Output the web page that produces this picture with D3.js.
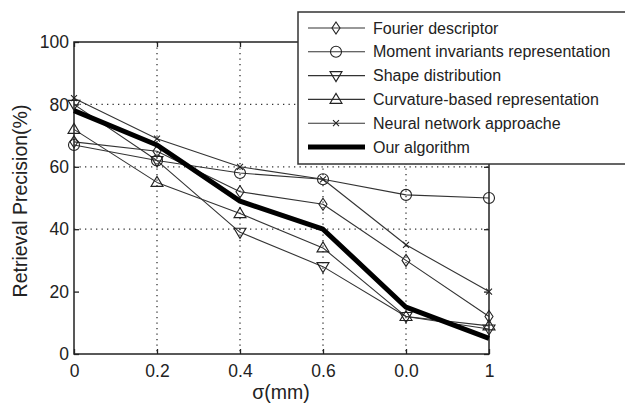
<!DOCTYPE html>
<html><head><meta charset="utf-8">
<script src="https://cdn.jsdelivr.net/npm/d3@7"></script>
<style>body{margin:0;background:#fff}svg{display:block;font-family:"Liberation Sans",Arial,sans-serif}</style>
</head><body><svg id="c" width="625" height="408"></svg>
<script>
const sigma = [0, 0.2, 0.4, 0.6, 0.8, 1];
const xTickValues = [0, 0.2, 0.4, 0.6, 0.8, 1];
const xTickLabels = ["0", "0.2", "0.4", "0.6", "0.0", "1"];
const yTickValues = [0, 20, 40, 60, 80, 100];
const yGridValues = [40, 60, 80];
const seriesNames = ["Fourier descriptor", "Moment invariants representation", "Shape distribution", "Curvature-based representation", "Neural network approache", "Our algorithm"];
const fourier = [68, 65, 52, 48, 30, 12];
const moment = [67, 62, 58, 56, 51, 50];
const shapeDist = [80, 62, 39, 28, 12, 8];
const curvature = [72, 55, 45, 34, 12, 9];
const neural = [82, 69, 60, 56, 35, 20];
const ours = [78, 67, 49, 40, 15, 5];
const markers = ["diamond", "circle", "tridown", "triup", "cross", "none"];

const series = [fourier, moment, shapeDist, curvature, neural, ours].map((v, i) => ({name: seriesNames[i], values: v, marker: markers[i], thick: i === 5}));

const svg = d3.select("#c");
const L = 74, R = 489, T = 42, B = 354;
const x = d3.scaleLinear().domain([0, 1]).range([L, R]);
const y = d3.scaleLinear().domain([0, 100]).range([B, T]);
const ink = "#222";

// grid
svg.append("g").selectAll("line").data(xTickValues.slice(1, 5)).join("line")
  .attr("x1", d => x(d)).attr("x2", d => x(d)).attr("y1", T).attr("y2", B)
  .attr("stroke", "#333").attr("stroke-width", 1.3).attr("stroke-dasharray", "1.3,4.2");
svg.append("g").selectAll("line").data(yGridValues).join("line")
  .attr("x1", L).attr("x2", R).attr("y1", d => y(d)).attr("y2", d => y(d))
  .attr("stroke", "#333").attr("stroke-width", 1.3).attr("stroke-dasharray", "1.3,4.2");

// axes
const xAxis = d3.axisBottom(x).tickValues(xTickValues).tickFormat((d, i) => xTickLabels[i]).tickSizeInner(-5).tickSizeOuter(0).tickPadding(11);
const gx = svg.append("g").attr("transform", `translate(0,${B})`).call(xAxis);
const yAxis = d3.axisLeft(y).tickValues(yTickValues).tickSizeInner(-5).tickSizeOuter(0).tickPadding(5);
const gy = svg.append("g").attr("transform", `translate(${L},0)`).call(yAxis);
const gyR = svg.append("g").attr("transform", `translate(${R},0)`).call(d3.axisRight(y).tickValues(yTickValues).tickSizeInner(-5).tickSizeOuter(0).tickFormat(""));
const gxT = svg.append("g").attr("transform", `translate(0,${T})`).call(d3.axisTop(x).tickValues(xTickValues).tickSizeInner(-5).tickSizeOuter(0).tickFormat(""));
[gx, gy, gyR, gxT].forEach(g => {
  g.select(".domain").remove();
  g.selectAll("line").attr("stroke", ink).attr("stroke-width", 1.3);
  g.selectAll("text").attr("fill", ink).attr("font-size", 17.5).attr("font-family", "Liberation Sans, Arial, sans-serif");
});
svg.append("rect").attr("x", L).attr("y", T).attr("width", R - L).attr("height", B - T)
  .attr("fill", "none").attr("stroke", ink).attr("stroke-width", 1.5);

// axis titles
svg.append("text").attr("x", 281).attr("y", 399).attr("text-anchor", "middle").attr("font-size", 19.5).attr("fill", ink).text("σ(mm)");
svg.append("text").attr("transform", "translate(27,201) rotate(-90)").attr("text-anchor", "middle").attr("font-size", 19.5).attr("fill", ink).text("Retrieval Precision(%)");

function drawMarker(g, type, cx, cy) {
  const st = {fill: "none", stroke: "#222", "stroke-width": 1.1};
  let el;
  if (type === "diamond") el = g.append("path").attr("d", `M${cx},${cy-6}L${cx+4},${cy}L${cx},${cy+6}L${cx-4},${cy}Z`);
  else if (type === "circle") el = g.append("circle").attr("cx", cx).attr("cy", cy).attr("r", 5.5);
  else if (type === "tridown") el = g.append("path").attr("d", `M${cx-6},${cy-4}L${cx+6},${cy-4}L${cx},${cy+6}Z`);
  else if (type === "triup") el = g.append("path").attr("d", `M${cx-6},${cy+4}L${cx+6},${cy+4}L${cx},${cy-6}Z`);
  else if (type === "cross") el = g.append("path").attr("d", `M${cx-3},${cy-3}L${cx+3},${cy+3}M${cx-3},${cy+3}L${cx+3},${cy-3}`);
  else return;
  Object.entries(st).forEach(([k, v]) => el.attr(k, v));
}

const line = d3.line().x((d, i) => x(sigma[i])).y(d => y(d));
const gl = svg.append("g");
series.forEach(s => {
  gl.append("path").datum(s.values).attr("d", line).attr("fill", "none")
    .attr("stroke", s.thick ? "#000" : "#333").attr("stroke-width", s.thick ? 5 : 1.1)
    .attr("stroke-linejoin", "round");
  s.values.forEach((v, i) => drawMarker(gl, s.marker, x(sigma[i]), y(v)));
});

// legend
const lg = svg.append("g");
lg.append("rect").attr("x", 298).attr("y", 12).attr("width", 340).attr("height", 152)
  .attr("fill", "#fff").attr("stroke", "#333").attr("stroke-width", 1.5);
series.forEach((s, i) => {
  const ly = 28 + i * 23.8;
  lg.append("line").attr("x1", 308).attr("x2", 365).attr("y1", ly).attr("y2", ly)
    .attr("stroke", s.thick ? "#000" : "#333").attr("stroke-width", s.thick ? 5 : 1.1);
  drawMarker(lg, s.marker, 336, ly);
  lg.append("text").attr("x", 373).attr("y", ly + 5.5).attr("font-size", 16).attr("fill", ink).text(s.name);
});
</script></body></html>
